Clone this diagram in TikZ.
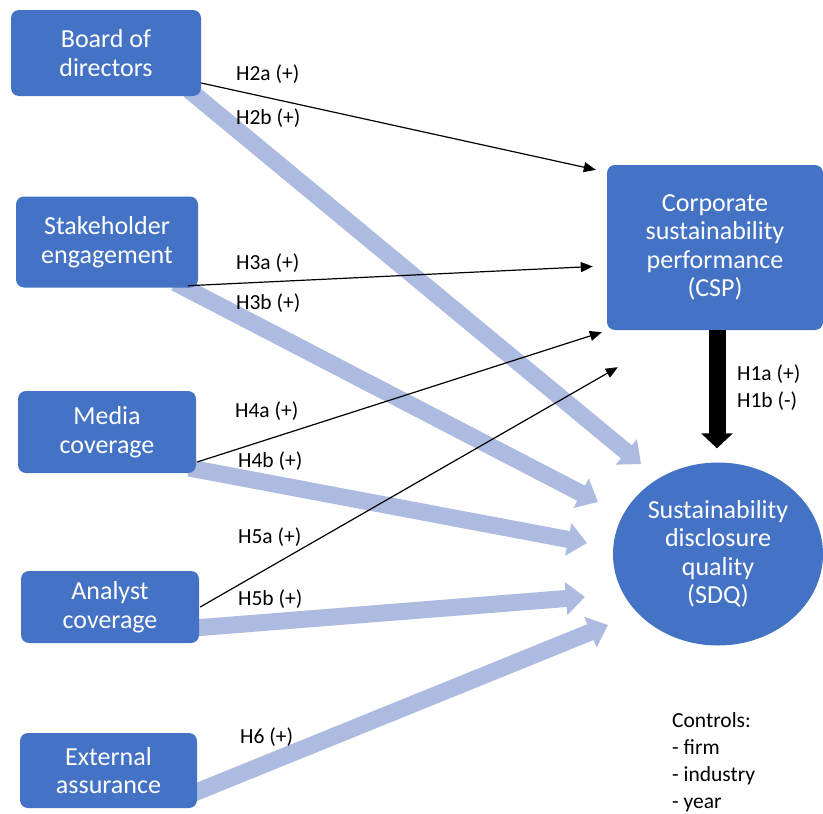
\documentclass[tikz,border=0pt]{standalone}
\usepackage{fontspec}
\setmainfont{Carlito}
\usetikzlibrary{arrows.meta,shapes.geometric,calc}
\pgfdeclarelayer{bg}
\pgfsetlayers{bg,main}
\definecolor{boxblue}{HTML}{4472C4}
\definecolor{lightarr}{RGB}{172,187,223}
\begin{document}
\begin{tikzpicture}[x=1pt,y=-1pt,
  box/.style={fill=boxblue, rounded corners=8pt, text=white, align=center, inner sep=0pt,
    font=\fontsize{26}{28.5}\selectfont},
  oval/.style={fill=boxblue, ellipse, text=white, align=center, inner sep=0pt,
    font=\fontsize{26}{28.5}\selectfont},
  lbl/.style={anchor=west, inner sep=0pt, font=\fontsize{21.5}{27}\selectfont},
  ctl/.style={anchor=base west, inner sep=0pt, font=\fontsize{21.5}{27}\selectfont},
  thinarr/.style={draw=black, line width=1.2pt, -{Triangle[length=12pt,width=10pt]}},
  fatarr/.style={draw=lightarr, line width=17pt, -{Triangle[length=19pt,width=32pt]}},
  bigarr/.style={draw=black, line width=17pt, -{Triangle[length=15pt,width=31pt]}}
]
\useasboundingbox (0,0) rectangle (823,814);

% nodes
\node[box, minimum width=190pt, minimum height=86pt] (board) at (106,53) {Board of\\directors};
\node[box, minimum width=182pt, minimum height=91pt] (stake) at (107,242) {Stakeholder\\engagement};
\node[box, minimum width=178pt, minimum height=82pt] (media) at (107,432) {Media\\coverage};
\node[box, minimum width=178pt, minimum height=72pt] (analyst) at (110,607) {Analyst\\coverage};
\node[box, minimum width=177pt, minimum height=75pt] (ext) at (108.5,770.5) {External\\assurance};
\node[box, minimum width=216pt, minimum height=165pt] (csp) at (715,247.5) {Corporate\\sustainability\\performance\\(CSP)};
\node[oval, minimum width=210pt, minimum height=183pt] (sdq) at (718,554) {Sustainability\\disclosure\\quality\\(SDQ)};

% light thick arrows (behind)
\begin{pgfonlayer}{bg}
\draw[fatarr] ($(board.south east)+(-12,-6)$) -- ($(sdq.center)+(-77,-90)$);
\draw[fatarr] ($(stake.south east)+(-23,-5)$) -- ($(sdq.center)+(-120,-52)$);
\draw[fatarr] ($(media.east)+(-7,36)$) -- ($(sdq.center)+(-131,-11)$);
\draw[fatarr] ($(analyst.east)+(-5,21)$) -- ($(sdq.center)+(-133,43)$);
\draw[fatarr] ($(ext.east)+(-7,24)$) -- ($(sdq.center)+(-110,71)$);
\end{pgfonlayer}

% thin black arrows
\draw[thinarr] ($(board.east)+(0,30)$) -- ($(csp.north west)+(-11,5)$);
\draw[thinarr] ($(stake.south east)+(-10,-2)$) -- ($(csp.west)+(-14,19)$);
\draw[thinarr] ($(media.east)+(1,30)$) -- ($(csp.south west)+(-5,2)$);
\draw[thinarr] ($(analyst.east)+(1,0)$) -- ($(csp.south west)+(11,37)$);

% thick black arrow
\draw[bigarr] ($(csp.south)+(2,0)$) -- ($(sdq.north)+(-1,-14)$);

% labels
\node[lbl] (l2a) at (236,74) {H2a (+)};
\node[lbl] (l2b) at (236,118) {H2b (+)};
\node[lbl] (l3a) at (236,263) {H3a (+)};
\node[lbl] (l3b) at (236,303) {H3b (+)};
\node[lbl] (l4a) at (235,411) {H4a (+)};
\node[lbl] (l4b) at (238,461) {H4b (+)};
\node[lbl] (l5a) at (238,537) {H5a (+)};
\node[lbl] (l5b) at (238,599) {H5b (+)};
\node[lbl] (l6) at (240,737) {H6 (+)};
\node[lbl] (l1a) at (737,374) {H1a (+)};
\node[lbl] (l1b) at (737,401) {H1b (-)};

\node[ctl] (c1) at (672,727) {Controls:};
\node[ctl] (c2) at (672,754) {- firm};
\node[ctl] (c3) at (672,781) {- industry};
\node[ctl] (c4) at (672,808) {- year};
\end{tikzpicture}
\end{document}
